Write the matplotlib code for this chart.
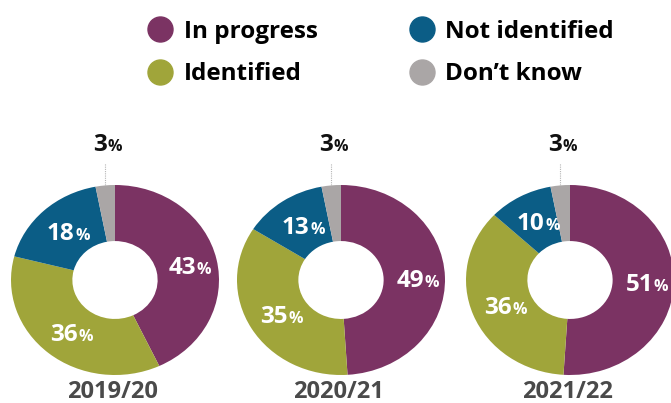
import numpy as np
import matplotlib.pyplot as plt
from matplotlib.lines import Line2D

#===========================================================
# Datos
#===========================================================

anios = ['2019/20', '2020/21', '2021/22']
categorias = ['In progress', 'Identified', 'Not identified', 'Don\u2019t know']
en_progreso = [43, 49, 51]
identificado = [36, 35, 36]
no_identificado = [18, 13, 10]
no_sabe = [3, 3, 3]

colores = ['#7b3363', '#a0a53a', '#0b5d86', '#aaa6a6']

#===========================================================
# Figura (coordenadas en pixeles)
#===========================================================

W, H = 671, 403
fig = plt.figure(figsize=(W / 100, H / 100), dpi=100)
plt.rcParams['font.family'] = ['Open Sans', 'DejaVu Sans']
plt.rcParams['font.stretch'] = 'normal'

centros_x = [115, 341, 570]
centro_y = 280
rx, ry = 104, 95
ancho_anillo = 0.59
fuente = dict(weight='bold', stretch='normal')

for i, anio in enumerate(anios):
    valores = [en_progreso[i], identificado[i], no_identificado[i], no_sabe[i]]
    cx = centros_x[i]
    ax = fig.add_axes([(cx - rx) / W, (H - centro_y - ry) / H, 2 * rx / W, 2 * ry / H])
    cunas, _ = ax.pie(valores, colors=colores, startangle=90, counterclock=False,
                      radius=1, wedgeprops=dict(width=ancho_anillo, linewidth=0))
    ax.set_aspect('auto')
    ax.set_xlim(-1, 1)
    ax.set_ylim(-1, 1)

    r_medio = 1 - ancho_anillo / 2
    for j, (cuna, v) in enumerate(zip(cunas, valores)):
        ang = np.deg2rad((cuna.theta1 + cuna.theta2) / 2)
        if j < 3:
            x, y = r_medio * np.cos(ang), r_medio * np.sin(ang)
            ax.annotate(str(v), (x, y), xytext=(7, -6.5), textcoords='offset points',
                        ha='right', va='baseline', fontsize=17.5, color='white',
                        annotation_clip=False, **fuente)
            ax.annotate('%', (x, y), xytext=(7.5, -6.5), textcoords='offset points',
                        ha='left', va='baseline', fontsize=11.5, color='white',
                        annotation_clip=False, **fuente)
        else:
            # etiqueta fuera con linea punteada
            x0 = np.cos(ang)
            ax.plot([x0, x0], [np.sin(ang), 1.23], color='#b5b5b5', lw=0.8,
                    ls=(0, (1, 1)), clip_on=False)
            ax.annotate(str(v), (x0, 1.23), xytext=(1, 9), textcoords='offset points',
                        ha='right', va='baseline', fontsize=17.5, color='#111111',
                        annotation_clip=False, **fuente)
            ax.annotate('%', (x0, 1.23), xytext=(1.5, 9), textcoords='offset points',
                        ha='left', va='baseline', fontsize=11.5, color='#111111',
                        annotation_clip=False, **fuente)

    fig.text((cx - 3) / W, (H - 397.5) / H, anio, ha='center', va='baseline',
             fontsize=17, color='#4a4a4a', **fuente)

#===========================================================
# Leyenda
#===========================================================

manijas = [Line2D([], [], ls='none', marker='o', markersize=18, color=c) for c in colores]
fig.legend(manijas, categorias, ncol=2, loc='center',
           bbox_to_anchor=(381 / W, 1 - 53 / H), frameon=False,
           prop=dict(size=17.5, **fuente), handletextpad=0.45,
           columnspacing=3.8, labelspacing=0.75, handlelength=1.0)

plt.savefig('out.png', dpi=100)
